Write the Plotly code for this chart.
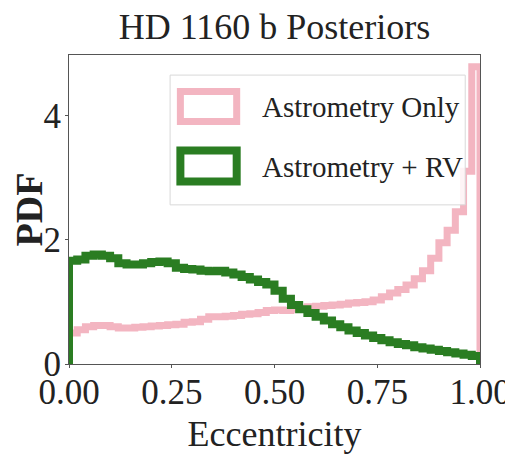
import plotly.graph_objects as go

# ---- data ----
bin_edges = [round(i * 0.02, 2) for i in range(51)]

astrometry_only = [
    0.50, 0.55, 0.60, 0.62, 0.62, 0.60, 0.58, 0.58, 0.59, 0.60,
    0.61, 0.62, 0.63, 0.64, 0.67, 0.68, 0.72, 0.76, 0.76, 0.77,
    0.78, 0.80, 0.81, 0.83, 0.86, 0.87, 0.86, 0.88, 0.90, 0.92,
    0.93, 0.94, 0.95, 0.96, 0.98, 0.99, 1.00, 1.03, 1.08, 1.14,
    1.20, 1.27, 1.37, 1.50, 1.70, 1.95, 2.15, 2.45, 3.10, 4.78,
]

astrometry_rv = [
    1.66, 1.68, 1.74, 1.76, 1.74, 1.70, 1.62, 1.60, 1.60, 1.62,
    1.64, 1.65, 1.62, 1.55, 1.53, 1.52, 1.50, 1.49, 1.50, 1.47,
    1.44, 1.40, 1.36, 1.32, 1.28, 1.18, 1.05, 0.95, 0.88, 0.82,
    0.76, 0.70, 0.64, 0.59, 0.54, 0.50, 0.46, 0.42, 0.38, 0.35,
    0.32, 0.30, 0.27, 0.25, 0.23, 0.21, 0.19, 0.17, 0.15, 0.13,
]

series_names = ["Astrometry Only", "Astrometry + RV"]
series_colors = ["#f3b5c1", "#2a7d22"]
series_widths = [7, 8]

x_ticks = [0.0, 0.25, 0.5, 0.75, 1.0]
y_ticks = [0, 2, 4]

FONT = "Liberation Serif, Times New Roman, serif"


def step_xy(edges, values):
    # matplotlib 'step' histogram outline: rises from 0 at first edge, falls to 0 at last
    xs = [edges[0]] + list(edges)
    ys = [0] + list(values) + [0]
    return xs, ys


fig = go.Figure()
for vals, name, col, w in zip([astrometry_only, astrometry_rv], series_names,
                              series_colors, series_widths):
    xs, ys = step_xy(bin_edges, vals)
    fig.add_trace(go.Scatter(x=xs, y=ys, mode="lines", name=name,
                             line=dict(color=col, width=w, shape="hv"),
                             showlegend=False, hoverinfo="skip"))

# ---- legend drawn by hand (matplotlib-style patch outlines) ----
shapes = [
    dict(type="rect", xref="paper", yref="paper", x0=0.246, x1=0.964, y0=0.515, y1=0.935,
         line=dict(color="#d8d8d8", width=1), fillcolor="rgba(255,255,255,0.85)", layer="above"),
    dict(type="rect", xref="paper", yref="paper", x0=0.271, x1=0.408, y0=0.785, y1=0.882,
         line=dict(color=series_colors[0], width=7), fillcolor="white", layer="above"),
    dict(type="rect", xref="paper", yref="paper", x0=0.271, x1=0.408, y0=0.591, y1=0.691,
         line=dict(color=series_colors[1], width=8), fillcolor="white", layer="above"),
]
annotations = [
    dict(text=series_names[0], xref="paper", yref="paper", x=0.465, y=0.833,
         xanchor="left", yanchor="middle", showarrow=False,
         font=dict(family=FONT, size=29, color="#222")),
    dict(text=series_names[1], xref="paper", yref="paper", x=0.465, y=0.639,
         xanchor="left", yanchor="middle", showarrow=False,
         font=dict(family=FONT, size=29, color="#222")),
    # edge of the neighbouring panel's y label, cropped by the figure border
    dict(text="<b>PDF</b>", xref="paper", yref="paper", x=1.119, y=0.534,
         xanchor="center", yanchor="middle", textangle=-90, showarrow=False,
         font=dict(family=FONT, size=38, color="#222")),
]

# page body has an 8px margin, so the figure is sized/offset to compensate
fig.update_layout(
    width=505, height=459,
    margin=dict(l=61, r=33, t=47, b=103, autoexpand=False),
    paper_bgcolor="white", plot_bgcolor="white",
    font=dict(family=FONT, size=36, color="#222"),
    title=dict(text="HD 1160 b Posteriors", xref="paper", x=0.5, xanchor="center",
               yref="container", y=0.961, yanchor="middle", automargin=False,
               font=dict(family=FONT, size=36, color="#222")),
    shapes=shapes, annotations=annotations,
    showlegend=False,
)
fig.update_xaxes(range=[0, 1], tickvals=x_ticks, tickformat=".2f", automargin=False,
                 showgrid=False, zeroline=False, showline=True, mirror=True,
                 linecolor="#555", linewidth=1.2, ticks="outside", ticklen=3,
                 tickcolor="#555", tickfont=dict(family=FONT, size=35),
                 ticklabelstandoff=-6,
                 title=dict(text="Eccentricity", font=dict(family=FONT, size=36), standoff=9))
fig.update_yaxes(range=[0, 4.97], tickvals=y_ticks, automargin=False,
                 showgrid=False, zeroline=False, showline=True, mirror=True,
                 linecolor="#555", linewidth=1.2, ticks="outside", ticklen=3,
                 tickcolor="#555", tickfont=dict(family=FONT, size=35),
                 ticklabelstandoff=-3,
                 title=dict(text="<b>PDF</b>", font=dict(family=FONT, size=38), standoff=6))

fig.write_html("out.html")
